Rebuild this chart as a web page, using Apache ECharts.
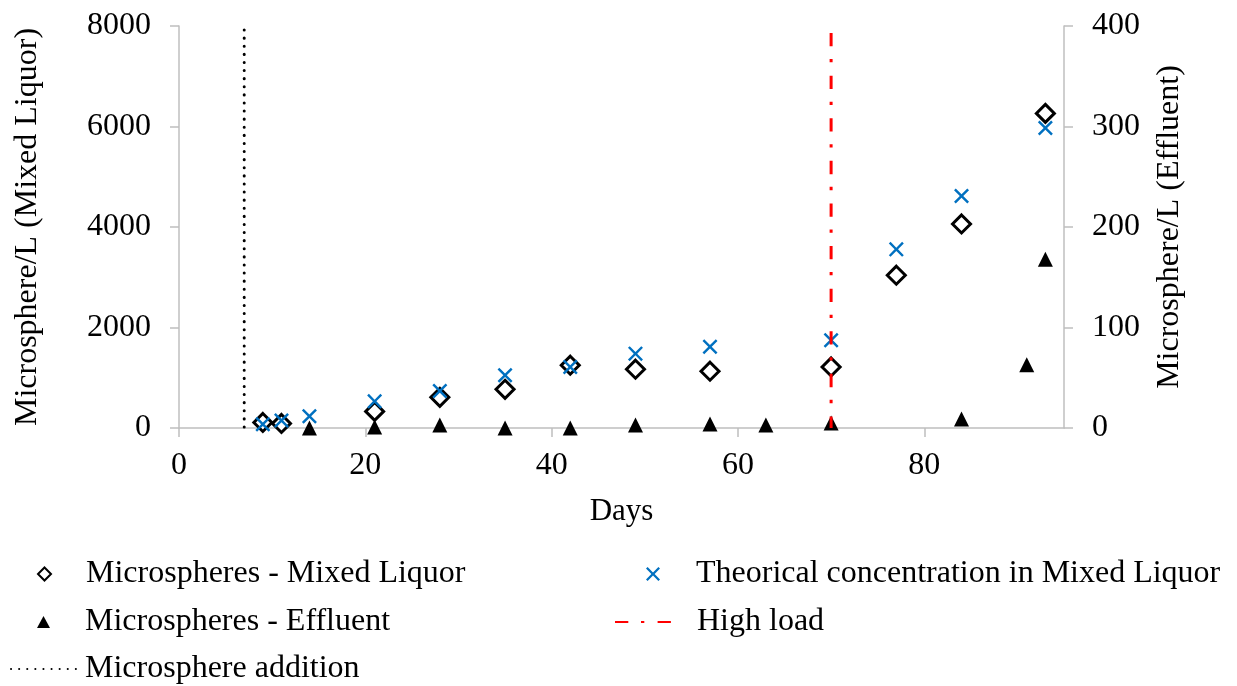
<!DOCTYPE html>
<html>
<head>
<meta charset="utf-8">
<script src="https://cdn.jsdelivr.net/npm/echarts@6/dist/echarts.min.js"></script>
<style>
  html, body { margin: 0; padding: 0; background: #ffffff; }
  #chart { width: 1237px; height: 686px; }
</style>
</head>
<body>
<div id="chart"></div>
<script>
// Day axis tick labels
const dayTicks = [0, 20, 40, 60, 80];

// Microspheres counted in the mixed liquor (left axis)
const mixedDays = [9, 11, 21, 28, 35, 42, 49, 57, 70, 77, 84, 93];
const mixedValues = [110, 90, 330, 610, 770, 1250, 1170, 1130, 1215, 3040, 4060, 6260];

// Theoretical concentration in the mixed liquor (left axis)
const theoryDays = [9, 11, 14, 21, 28, 35, 42, 49, 57, 70, 77, 84, 93];
const theoryValues = [75, 150, 235, 530, 735, 1050, 1215, 1480, 1615, 1745, 3555, 4615, 5970];

// Microspheres counted in the effluent (right axis)
const effluentDays = [14, 21, 28, 35, 42, 49, 57, 63, 70, 84, 91, 93];
const effluentValues = [0, 1, 3, 0, 0, 3, 4, 3, 5, 9, 63, 168];

// Event markers: day of microsphere addition and start of high load
const additionDay = 7;
const additionTop = 7920;
const highLoadDay = 70;
const highLoadTop = 7860;

const FONT = '"Liberation Serif", "Times New Roman", serif';
const AXIS_GREY = '#BFBFBF';
const crossSymbol = 'path://M0,1.15L1.15,0L5,3.85L8.85,0L10,1.15L6.15,5L10,8.85L8.85,10L5,6.15L1.15,10L0,8.85L3.85,5Z';

const pairs = (xs, ys) => xs.map((x, i) => [x, ys[i]]);

const labelStyle = { fontFamily: FONT, fontSize: 32, color: '#000' };
const axisLine = { show: true, lineStyle: { color: AXIS_GREY, width: 1.5 } };
const axisTick = { show: true, inside: false, length: 9, lineStyle: { color: AXIS_GREY, width: 1.5 } };
const plainNumber = v => String(v);

// One legend block per entry so each icon and label can sit in its own slot
function legendEntry(name, left, top, iconWidth, iconHeight, textGap, hideSymbol) {
  const entry = {
    data: [name],
    orient: 'vertical',
    left: left,
    top: top,
    padding: 0,
    itemWidth: iconWidth,
    itemHeight: iconHeight,
    selectedMode: false,
    textStyle: { fontFamily: FONT, fontSize: 32, color: '#000', padding: [0, 0, 0, textGap] }
  };
  if (hideSymbol) {
    entry.itemStyle = { color: 'rgba(0,0,0,0)', borderWidth: 0, opacity: 0 };
  }
  return entry;
}

const chart = echarts.init(document.getElementById('chart'), null, { renderer: 'canvas' });

const option = {
  animation: false,
  backgroundColor: '#ffffff',
  grid: { left: 179, right: 173, top: 26, bottom: 258 },
  xAxis: {
    type: 'value',
    min: 0,
    max: 95,
    interval: 20,
    name: 'Days',
    nameLocation: 'middle',
    nameGap: 68,
    nameTextStyle: Object.assign({}, labelStyle, { fontSize: 31 }),
    axisLine: axisLine,
    axisTick: Object.assign({}, axisTick, { customValues: dayTicks }),
    axisLabel: Object.assign({}, labelStyle, { margin: 22, customValues: dayTicks, formatter: plainNumber }),
    splitLine: { show: false }
  },
  yAxis: [
    {
      type: 'value',
      position: 'left',
      min: 0,
      max: 8000,
      interval: 2000,
      name: 'Microsphere/L (Mixed Liquor)',
      nameLocation: 'middle',
      nameRotate: 90,
      nameGap: 135,
      nameTextStyle: labelStyle,
      axisLine: axisLine,
      axisTick: axisTick,
      axisLabel: Object.assign({}, labelStyle, { margin: 28, formatter: plainNumber }),
      splitLine: { show: false }
    },
    {
      type: 'value',
      position: 'right',
      min: 0,
      max: 400,
      interval: 100,
      name: 'Microsphere/L (Effluent)',
      nameLocation: 'middle',
      nameRotate: 90,
      nameGap: 90,
      nameTextStyle: labelStyle,
      axisLine: axisLine,
      axisTick: axisTick,
      axisLabel: Object.assign({}, labelStyle, { margin: 28, formatter: plainNumber }),
      splitLine: { show: false }
    }
  ],
  legend: [
    legendEntry('Microspheres - Mixed Liquor', 37, 558, 13, 13, 30, false),
    legendEntry('Microspheres - Effluent', 37, 606, 13, 12, 30, false),
    legendEntry('Microsphere addition', 10, 653, 66, 12, 3, true),
    legendEntry('Theorical concentration in Mixed Liquor', 646, 558, 14, 14, 31, false),
    legendEntry('High load', 614, 606, 66, 12, 11, true)
  ],
  series: [
    {
      name: 'Microspheres - Mixed Liquor',
      type: 'scatter',
      yAxisIndex: 0,
      symbol: 'diamond',
      symbolSize: 18,
      itemStyle: { color: '#ffffff', borderColor: '#000000', borderWidth: 3, opacity: 1 },
      data: pairs(mixedDays, mixedValues),
      z: 3
    },
    {
      name: 'Theorical concentration in Mixed Liquor',
      type: 'scatter',
      yAxisIndex: 0,
      symbol: crossSymbol,
      symbolSize: 15,
      itemStyle: { color: '#0070C0', opacity: 1 },
      data: pairs(theoryDays, theoryValues),
      z: 4
    },
    {
      name: 'Microspheres - Effluent',
      type: 'scatter',
      yAxisIndex: 1,
      symbol: 'triangle',
      symbolSize: 15,
      itemStyle: { color: '#000000', opacity: 1 },
      data: pairs(effluentDays, effluentValues),
      z: 3
    },
    {
      name: 'Microsphere addition',
      type: 'line',
      yAxisIndex: 0,
      symbol: 'none',
      lineStyle: { color: '#000000', width: 3, type: [0.1, 8], cap: 'round' },
      itemStyle: { color: '#000000' },
      data: [[additionDay, additionTop], [additionDay, 0]],
      z: 5
    },
    {
      name: 'High load',
      type: 'line',
      yAxisIndex: 0,
      symbol: 'none',
      lineStyle: { color: '#FF0000', width: 3, type: [13.3, 12.7, 3.3, 13.3] },
      itemStyle: { color: '#FF0000' },
      data: [[highLoadDay, highLoadTop], [highLoadDay, 0]],
      z: 5
    }
  ]
};

chart.setOption(option);
</script>
</body>
</html>
